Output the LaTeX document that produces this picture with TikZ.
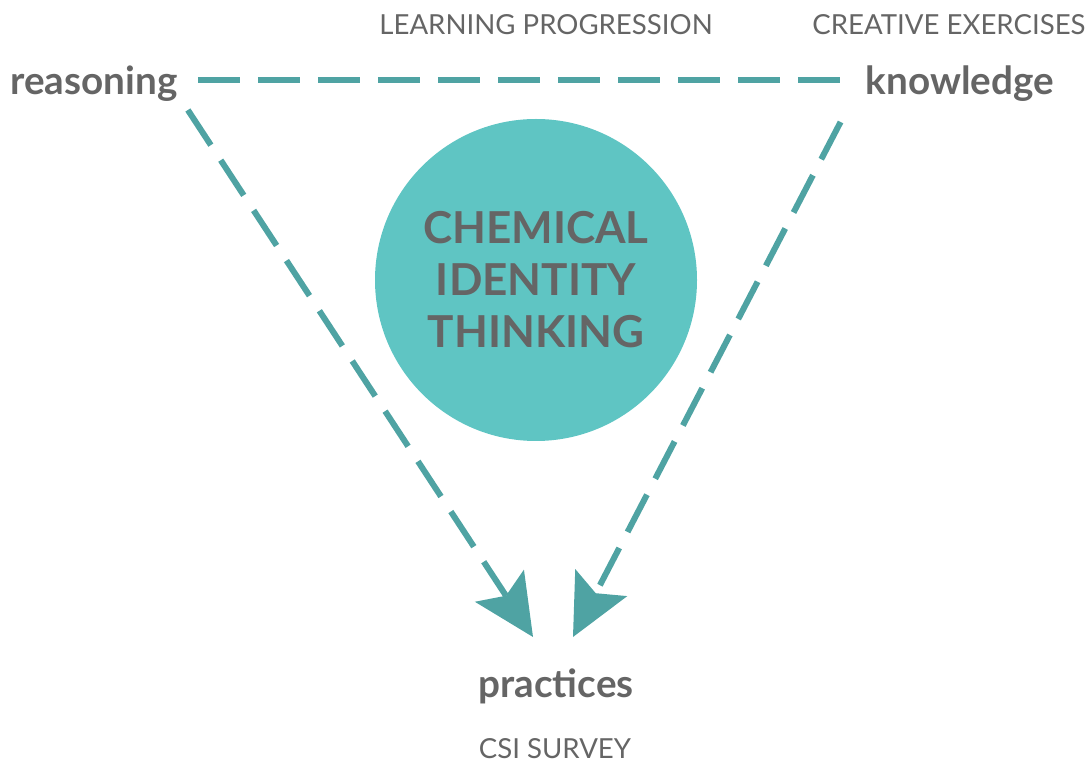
\documentclass[tikz,border=0pt]{standalone}
\usepackage{fontspec}
\setmainfont{Lato}
\usepackage{tikz}
\usetikzlibrary{positioning, calc, arrows.meta}
\definecolor{dashteal}{HTML}{4FA3A3}
\definecolor{circteal}{HTML}{5FC5C3}
\definecolor{labgrey}{HTML}{656565}
\tikzset{>={Stealth[length=46pt, width=44pt, inset=9pt, line width=0pt]}}
\tikzset{dashline/.style={draw=dashteal, line width=4.5pt, dash pattern=on 31.5pt off 13.5pt}}

\begin{document}
\begin{tikzpicture}[x=0.75pt, y=-0.75pt]
		\useasboundingbox (0,0) rectangle (1089,762);
		\begin{scope}[every node/.append style={text=labgrey, inner sep=0pt, anchor=base}]
			\node[font=\bfseries\fontsize{29}{35}\selectfont] (0) at (94, 95) {reasoning};
			\node[font=\bfseries\fontsize{29}{35}\selectfont] (1) at (960, 95) {knowledge};
			\node[font=\bfseries\fontsize{29}{35}\selectfont] (2) at (556, 697) {practices};
			\node[font=\fontsize{20.7}{25}\selectfont] (4) at (546, 35) {LEARNING PROGRESSION};
			\node[font=\fontsize{20.7}{25}\selectfont] (5) at (949, 35) {CREATIVE EXERCISES};
			\node[font=\fontsize{20.7}{25}\selectfont] (6) at (555, 758) {CSI SURVEY};
		\end{scope}
		\node[circle, fill=circteal, minimum size=241.5pt, inner sep=0pt, text=labgrey, align=center,
			font=\bfseries\fontsize{33}{39}\selectfont] (3) at (536, 280) {CHEMICAL\\IDENTITY\\THINKING};

		\draw[dashline] ($(0.base east)+(20,-15)$) -- ($(1.base west)+(-26,-15)$);
		\draw[dashline, ->] ($(0.base east)+(10,15)$) -- ($(2.base)+(-23,-60)$);
		\draw[dashline, ->] ($(1.base west)+(-25,27)$) -- ($(2.base)+(17,-60)$);
	\end{tikzpicture}
\end{document}
